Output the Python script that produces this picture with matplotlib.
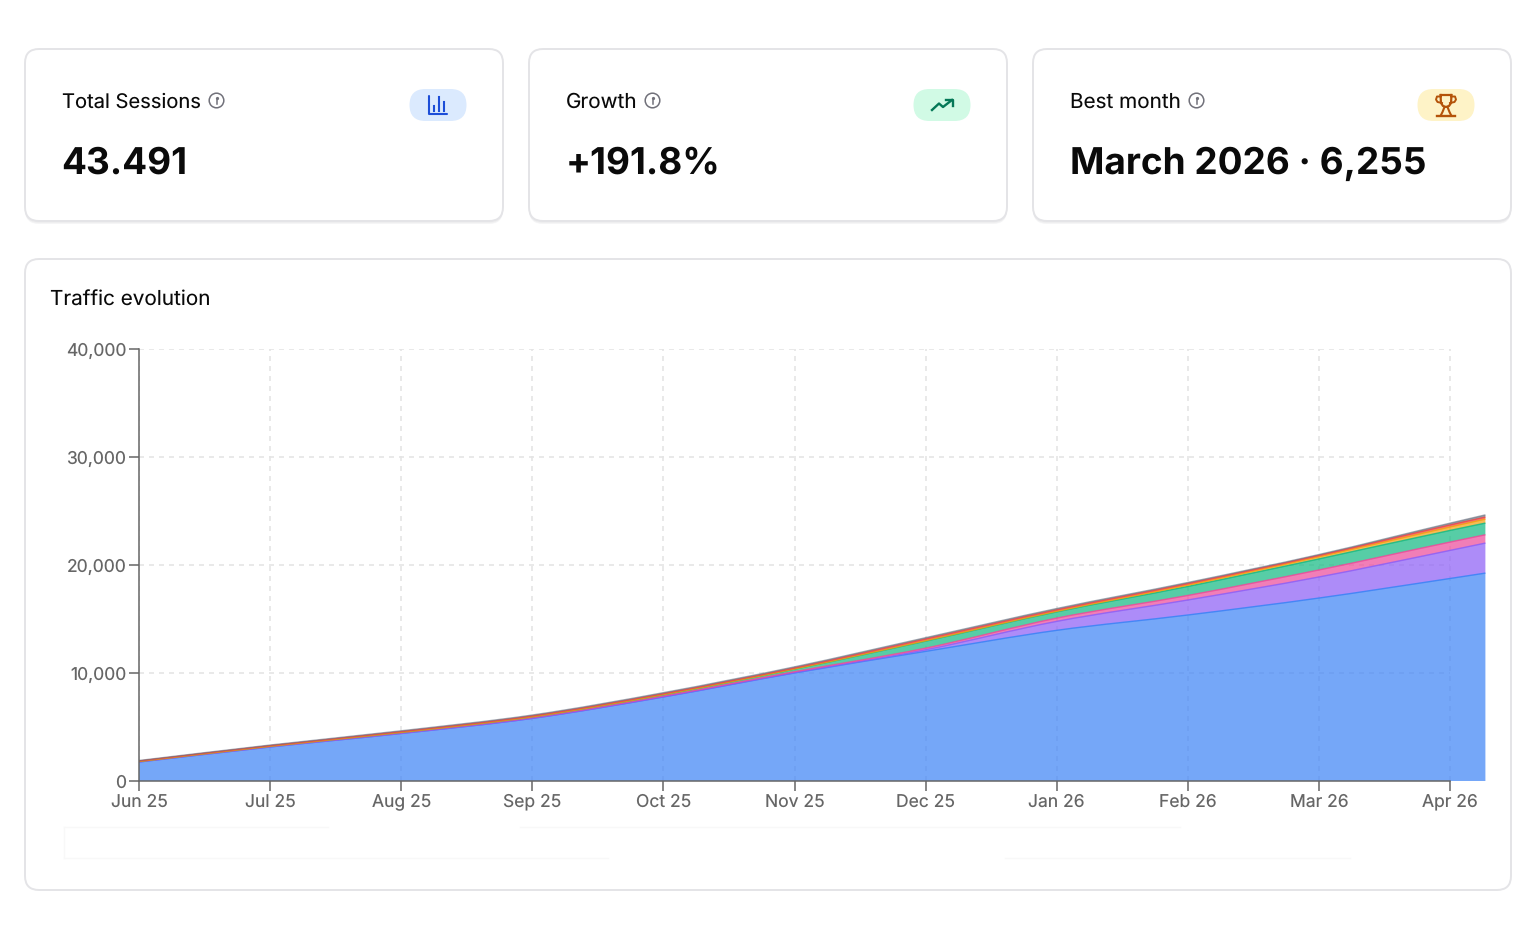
import numpy as np
import matplotlib
matplotlib.use("Agg")
import matplotlib.pyplot as plt
from matplotlib.patches import FancyBboxPatch, Circle, PathPatch
from matplotlib.path import Path

plt.rcParams["font.family"] = ["Inter", "DejaVu Sans"]
plt.rcParams["text.hinting"] = "no_hinting"
plt.rcParams["text.hinting_factor"] = 1

# Values
month_labels = ["Jun 25", "Jul 25", "Aug 25", "Sep 25", "Oct 25", "Nov 25",
                "Dec 25", "Jan 26", "Feb 26", "Mar 26", "Apr 26"]
x_positions = [0, 1, 2, 3, 4, 5, 6, 7, 8, 9, 10, 10.27]
blue = [1760, 3150, 4400, 5800, 7780, 10000, 12000, 13950, 15370, 16940, 18750, 19250]
purple = [0, 0, 5, 5, 10, 30, 150, 830, 1390, 1950, 2600, 2780]
pink = [40, 50, 60, 70, 80, 90, 150, 300, 420, 650, 770, 770]
green = [10, 20, 40, 70, 120, 230, 650, 580, 830, 1020, 1080, 1080]
orange = [0, 0, 5, 5, 10, 20, 40, 50, 130, 200, 320, 370]
red = [40, 50, 60, 70, 80, 90, 150, 130, 130, 120, 185, 185]
grey = [50, 60, 80, 90, 100, 110, 130, 130, 110, 90, 170, 210]
series_colors = ["#3b82f6", "#8b5cf6", "#ec4899", "#10b981", "#f59e0b", "#ef4444", "#6b7280"]
y_ticks = [0, 10000, 20000, 30000, 40000]

card_titles = ["Total Sessions", "Growth", "Best month"]
card_values = ["43.491", "+191.8%", "March 2026 · 6,255"]
card_lefts = [25, 529, 1033]

W, H = 1536, 939
fig = plt.figure(figsize=(W / 100, H / 100), dpi=100, facecolor="white")

# Overlay in pixel coordinates for the cards and icons
bg = fig.add_axes([0, 0, 1, 1], zorder=0)
bg.set_xlim(0, W)
bg.set_ylim(H, 0)
bg.axis("off")


def card(x0, y0, x1, y1, shadow=True):
    if shadow:
        for off, col in [(3, "#f5f5f6"), (2, "#eeeeef")]:
            bg.add_patch(FancyBboxPatch((x0, y0 + off), x1 - x0, y1 - y0,
                                        boxstyle="round,pad=0,rounding_size=14",
                                        fc=col, ec="none"))
    bg.add_patch(FancyBboxPatch((x0, y0), x1 - x0, y1 - y0,
                                boxstyle="round,pad=0,rounding_size=14",
                                fc="white", ec="#e4e4e7", lw=1.4))


def pill(x0, color):
    bg.add_patch(FancyBboxPatch((x0, 89), 57, 32,
                                boxstyle="round,pad=0,rounding_size=16",
                                fc=color, ec="none"))


def info_icon(cx, cy=100.5):
    bg.add_patch(Circle((cx, cy), 7.3, fc="none", ec="#71717a", lw=1.1))
    bg.plot([cx, cx], [cy - 0.5, cy + 3.5], color="#71717a", lw=1.1)
    bg.plot([cx], [cy - 3], marker="o", ms=1.3, color="#71717a")


title_sizes = [14.5, 14.9, 14.9]
for left, title, value, size in zip(card_lefts, card_titles, card_values, title_sizes):
    card(left, 49, left + 478, 221)
    bg.text(left + 37, 108, title, fontsize=size, color="#0a0a0a", va="baseline")
    bg.text(left + 36.5, 173.5, value, fontsize=26.6, fontweight="bold", color="#0a0a0a", va="baseline")

info_icon(216.5)
info_icon(652.5)
info_icon(1196.5)

pill(409.5, "#dbeafe")
pill(913.5, "#d1fae5")
pill(1417.5, "#fef3c7")

# bar chart icon
blue_ic = "#1d4ed8"
bg.plot([429, 429, 447], [96, 113.5, 113.5], color=blue_ic, lw=1.5, solid_capstyle="round")
for bx, top in [(433.5, 106), (438.5, 97), (443.5, 102)]:
    bg.plot([bx, bx], [110.5, top], color=blue_ic, lw=1.5)

# trending icon
green_ic = "#047857"
bg.plot([932, 939, 943, 952], [110, 103.5, 107, 100], color=green_ic, lw=1.7)
bg.plot([946, 952.5, 952.5], [100, 100, 105.5], color=green_ic, lw=1.7)

# trophy icon
tr = "#b45309"
bg.plot([1441, 1451], [95, 95], color=tr, lw=1.6)
bg.plot([1440.5, 1441, 1443, 1446, 1449, 1451, 1451.5],
        [95, 103, 106, 107, 106, 103, 95], color=tr, lw=1.6)
bg.plot([1441, 1437, 1436, 1437.5, 1442], [96.5, 96.5, 99.5, 102, 103], color=tr, lw=1.4)
bg.plot([1451, 1455, 1456, 1454.5, 1450], [96.5, 96.5, 99.5, 102, 103], color=tr, lw=1.4)
bg.plot([1444.5, 1442.5, 1441], [107, 112, 115], color=tr, lw=1.5)
bg.plot([1447.5, 1449.5, 1451], [107, 112, 115], color=tr, lw=1.5)
bg.plot([1437, 1455], [115.5, 115.5], color=tr, lw=1.7)

# Big panel
card(25, 259, 1511, 890, shadow=False)
bg.text(50, 306, "Traffic evolution", fontsize=14.9, color="#0a0a0a", va="baseline")

# Ghost outline of the empty legend box
ghost = "#f8f8f8"
bg.plot([64, 64], [827, 858], color=ghost, lw=1)
bg.plot([64, 328], [827, 827], color=ghost, lw=1)
bg.plot([520, 1180], [827, 827], color=ghost, lw=1)
bg.plot([64, 608], [858, 858], color=ghost, lw=1)
bg.plot([1005, 1350], [858, 858], color=ghost, lw=1)

# Chart axes: x 0 at px 139.5, 10 at px 1450.5; y 0 at px 781, 40000 at px 349
x_left = 139.0
px_per_month = 131.1
x_right = 1486.5
ax = fig.add_axes([x_left / W, 1 - 781 / H, (x_right - x_left) / W, (781 - 349) / H], zorder=1)
ax.patch.set_alpha(0)
ax.set_xlim(0, (x_right - x_left) / px_per_month)
ax.set_ylim(0, 40000)

for i in range(len(month_labels)):
    ax.plot([i, i], [0, 40000], color="#e5e5e5", lw=1.2, dashes=(3, 3), zorder=1)
for t in y_ticks[1:]:
    ax.plot([0, 10], [t, t], color="#e5e5e5", lw=1.2, dashes=(3, 3), zorder=1)


def curve_segments(xs, ys):
    # cubic bezier segments through the read values, like the smooth area curve of the original
    slopes = np.gradient(ys, xs)
    verts, codes = [], []
    for j in range(len(xs) - 1):
        h = (xs[j + 1] - xs[j]) / 3
        verts += [(xs[j] + h, ys[j] + slopes[j] * h),
                  (xs[j + 1] - h, ys[j + 1] - slopes[j + 1] * h),
                  (xs[j + 1], ys[j + 1])]
        codes += [Path.CURVE4] * 3
    return verts, codes


xs = np.array(x_positions, dtype=float)
tops = np.cumsum([blue, purple, pink, green, orange, red, grey], axis=0).astype(float)
lower = np.zeros_like(xs)
line_alphas = [0.9, 0.85, 0.85, 0.85, 0.85, 0.85, 0.6]
for top, col, line_alpha in zip(tops, series_colors, line_alphas):
    up_v, up_c = curve_segments(xs, top)
    down_v, down_c = curve_segments(xs[::-1], lower[::-1])
    verts = [(xs[0], top[0])] + up_v + [(xs[-1], lower[-1])] + down_v + [(xs[0], top[0])]
    codes = [Path.MOVETO] + up_c + [Path.LINETO] + down_c + [Path.CLOSEPOLY]
    ax.add_patch(PathPatch(Path(verts, codes), fc=col, ec="none", alpha=0.7, zorder=2))
    ax.add_patch(PathPatch(Path([(xs[0], top[0])] + up_v, [Path.MOVETO] + up_c),
                           fc="none", ec=col, lw=1.0, alpha=line_alpha, zorder=3, capstyle="butt"))
    lower = top

ax.spines["top"].set_visible(False)
ax.spines["right"].set_visible(False)
ax.spines["left"].set_color("#666666")
ax.spines["bottom"].set_color("#666666")
ax.spines["left"].set_linewidth(1.1)
ax.spines["bottom"].set_linewidth(1.1)
ax.spines["bottom"].set_bounds(0, 10)
ax.spines["bottom"].set_zorder(5)
ax.spines["left"].set_zorder(5)

ax.set_xticks(range(len(month_labels)))
ax.set_xticklabels(month_labels)
ax.set_yticks(y_ticks)
ax.set_yticklabels([f"{t:,}" for t in y_ticks])
ax.tick_params(axis="both", colors="#666666", labelcolor="#666666", labelsize=12.6,
               length=7, width=1.1, pad=2)
ax.tick_params(axis="y", pad=2)

fig.savefig("out.png", dpi=100, facecolor="white")
